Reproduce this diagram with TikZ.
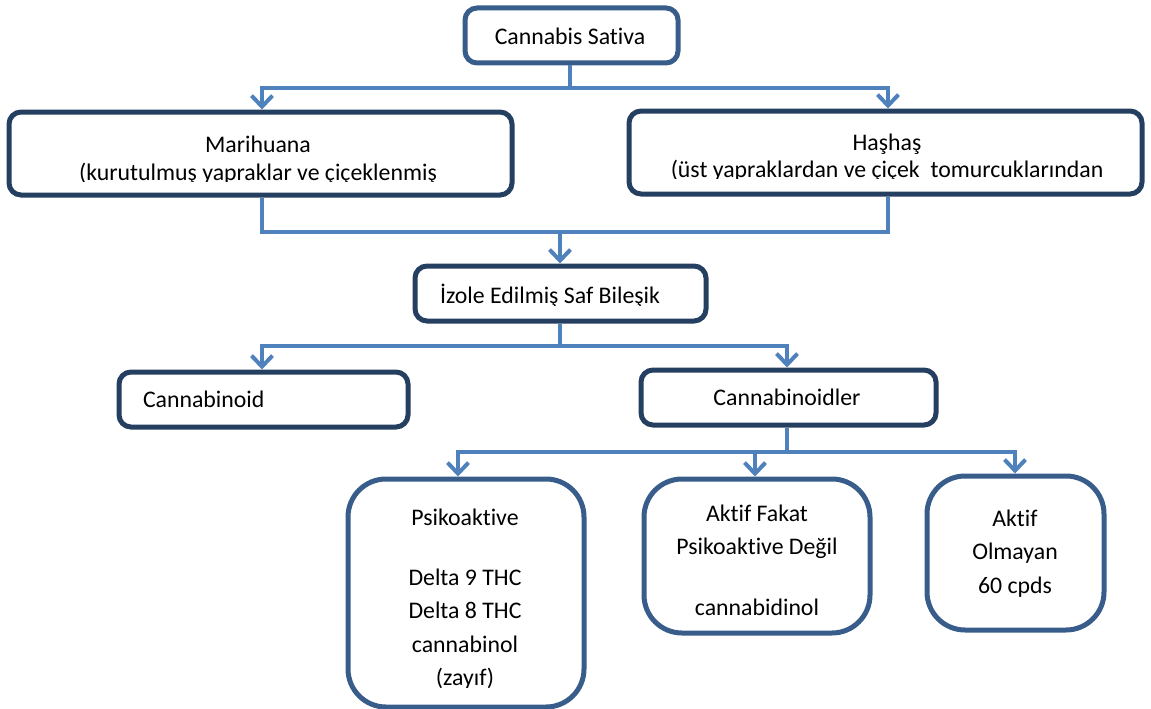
\documentclass[tikz,border=0pt]{standalone}
\usepackage{fontspec}
\setmainfont{Carlito}[Ligatures={NoCommon}]
\usetikzlibrary{arrows.meta}
\definecolor{conncol}{HTML}{4F81BD}
\definecolor{darkbord}{HTML}{243F60}
\definecolor{midbord}{HTML}{385D8A}
\tikzset{
  box/.style={draw=#1, line width=5pt, rounded corners=12pt, fill=white, inner sep=0pt, outer sep=2.5pt},
  bigbox/.style={draw=midbord, line width=5pt, rounded corners=38pt, fill=white, inner sep=0pt, outer sep=2.5pt},
  conn/.style={draw=conncol, line width=4pt},
  arr/.style={conn, -{Straight Barb[length=11pt,width=21pt]}},
  txt/.style={font=\fontsize{23.8pt}{33.5pt}\selectfont, inner sep=0pt, outer sep=0pt, text=black},
}
\begin{document}
\begin{tikzpicture}[x=1pt,y=-1pt]
\useasboundingbox (0,0) rectangle (1151,709);
% boxes
\node[box=midbord, minimum width=213pt, minimum height=55pt] (sat) at (571.5,35.5) {};
\node[box=darkbord, minimum width=503pt, minimum height=83pt] (mar) at (260.5,153.5) {};
\node[box=darkbord, minimum width=513pt, minimum height=83pt] (has) at (885.5,152.5) {};
\node[box=darkbord, minimum width=291pt, minimum height=55pt] (izo) at (560.5,293.5) {};
\node[box=darkbord, minimum width=289pt, minimum height=55pt] (cnd) at (263.5,399.5) {};
\node[box=darkbord, minimum width=295pt, minimum height=55pt] (cnl) at (788.5,397.5) {};
\node[bigbox, minimum width=236pt, minimum height=228pt] (psi) at (466,593) {};
\node[bigbox, minimum width=226pt, minimum height=154pt] (akf) at (757,556) {};
\node[bigbox, minimum width=177pt, minimum height=154pt] (ako) at (1015.5,553) {};
% texts
\node[txt, anchor=base] (satt) at (570,45) {Cannabis Sativa};
\begin{scope}
\clip (10,112) rectangle (511,181.5);
\node[txt, anchor=base] (mart1) at (258,152) {Marihuana};
\node[txt, anchor=base] (mart2) at (258,180) {(kurutulmuş yapraklar ve çiçeklenmiş};
\end{scope}
\begin{scope}
\clip (630,111) rectangle (1140,178.5);
\node[txt, anchor=base] (hast1) at (887,150) {Haşhaş};
\node[txt, anchor=base] (hast2) at (887,177) {(üst yapraklardan ve çiçek\ \ tomurcuklarından};
\end{scope}
\begin{scope}
\clip (416,267) rectangle (705,305.5);
\node[txt, anchor=base west] (izot) at (440,303) {İzole Edilmiş Saf Bileşik};
\end{scope}
\node[txt, anchor=base west] (cndt) at (143,407) {Cannabinoid};
\node[txt, anchor=base] (cnlt) at (787,405) {Cannabinoidler};
\begin{scope}
\clip (350,482) rectangle (582,687);
\node[txt, anchor=base, align=center] (psit) at (465,685.5) {Psikoaktive\\[26.5pt]Delta 9 THC\\Delta 8 THC\\cannabinol\\(zayıf)};
\end{scope}
\node[txt, anchor=base, align=center] (akft) at (757,615) {Aktif Fakat\\Psikoaktive Değil\\[27pt]cannabidinol};
\node[txt, anchor=base, align=center] (akot) at (1015,593) {Aktif\\Olmayan\\60 cpds};
% connectors
\coordinate (j0) at (570,88);
\draw[conn] (sat.south -| j0) -- (j0);
\draw[arr] (j0) -| ([xshift=1.5pt]mar.north);
\draw[arr] (j0) -| ([xshift=2.5pt]has.north);
\coordinate (j1) at (560,232);
\draw[conn] ([xshift=1.5pt]mar.south) |- (j1) -| ([xshift=2.5pt]has.south);
\draw[arr] (j1) -- (izo.north -| j1);
\coordinate (j2) at (560,346);
\draw[conn] (izo.south -| j2) -- (j2);
\draw[arr] (j2) -| ([xshift=-1.5pt]cnd.north);
\draw[arr] (j2) -| ([xshift=-1.5pt]cnl.north);
\coordinate (j3) at (787,452);
\draw[conn] (cnl.south -| j3) -- (j3);
\draw[arr] (j3) -| ([xshift=-8pt]psi.north);
\draw[arr] (j3) -| ([xshift=-2pt]akf.north);
\draw[arr] (j3) -| ([xshift=-0.5pt]ako.north);
\end{tikzpicture}
\end{document}
